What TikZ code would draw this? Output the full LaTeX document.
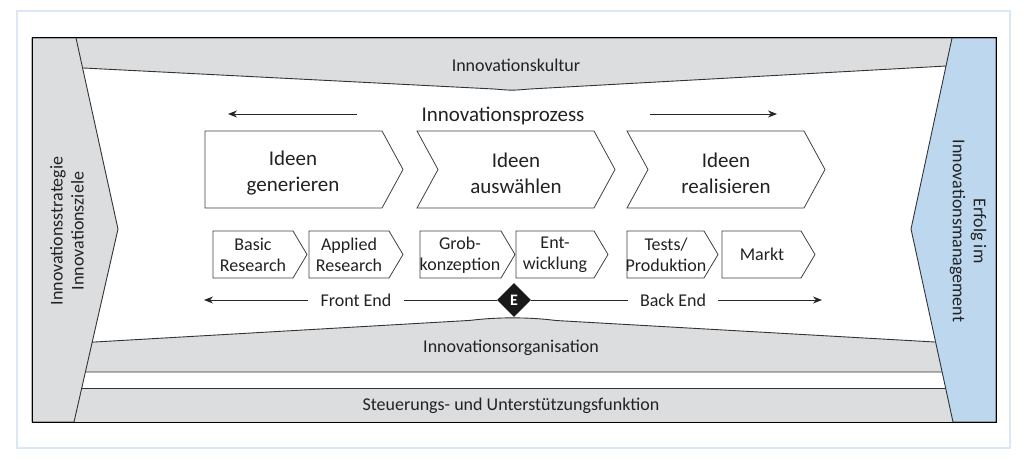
\documentclass[tikz,border=0pt]{standalone}
\usepackage{fontspec}
\setmainfont{Carlito}
\usepackage{tikz}
\usetikzlibrary{arrows.meta,shapes.geometric}
\definecolor{bandgray}{HTML}{DCDDDF}
\definecolor{erfolgblue}{HTML}{BDD7EE}
\definecolor{framecol}{HTML}{DAE8F5}
\definecolor{textgray}{HTML}{222222}
\tikzstyle{band}=[fill=bandgray,draw=black!80,line width=0.9pt]
\tikzstyle{chevbox}=[fill=white,draw=black!75,line width=0.8pt]
\tikzstyle{bigtext}=[text=textgray,align=center,inner sep=0pt,font=\fontsize{21}{26}\selectfont]
\tikzstyle{smalltext}=[text=textgray,align=center,inner sep=0pt,font=\fontsize{18}{21}\selectfont]
\tikzstyle{pfeil}=[-{Stealth[length=9pt,width=7pt]},line width=0.8pt,draw=black!85]
% #1 left, #2 tip, #3 top, #4 bottom, #5 tip depth, #6 notch depth
\newcommand{\chev}[6]{%
  \draw[chevbox] (#1,#3) -- ({#2-#5},#3) -- (#2,{(#3+#4)/2}) -- ({#2-#5},#4)
    -- (#1,#4) -- ({#1+#6},{(#3+#4)/2}) -- cycle;}

\begin{document}
\begin{tikzpicture}[x=1pt,y=-1pt]
	\useasboundingbox (0,0) rectangle (1024,460);
	\draw[framecol,line width=1.5pt] (17,11) rectangle (1010,448);
	% bands
	\draw[band] (60,38) -- (970,38) -- (970,64.7) -- (530,89) .. controls (512,90.5) .. (494,89)
		-- (60,66.8) -- cycle;
	\draw[band] (60,344) -- (470,320.4) .. controls (497,317) and (529,317) .. (556,320.5)
		-- (970,344) -- (970,372) -- (60,372) -- cycle;
	\draw[band] (60,388) rectangle (970,422);
	\draw[band] (32,38) -- (76,38) -- (118,229) -- (74,422) -- (32,422) -- cycle;
	\draw[band,fill=erfolgblue] (996,38) -- (952,38) -- (911,229) -- (953,422) -- (996,422) -- cycle;
	\draw[line width=1pt] (32,38) rectangle (996,422);
	% band labels
	\node[smalltext,anchor=base] (kultur) at (516,71) {Innovationskultur};
	\node[smalltext,anchor=base] (organisation) at (511,352) {Innovationsorganisation};
	\node[smalltext,anchor=base] (steuerung) at (511,410) {Steuerungs- und Unterstützungsfunktion};
	\node[smalltext,rotate=90] (strategie) at (67,231) {Innovationsstrategie\\Innovationsziele};
	\node[smalltext,rotate=-90] (erfolg) at (968,231) {Erfolg im\\Innovationsmanagement};
	% prozess
	\node[bigtext,anchor=base] (prozess) at (503,121) {Innovationsprozess};
	\coordinate (pl1) at (357,114);
	\coordinate (pl2) at (228,114);
	\coordinate (pr1) at (650,114);
	\coordinate (pr2) at (777,114);
	\draw[pfeil] (pl1) -- (pl2);
	\draw[pfeil] (pr1) -- (pr2);
	% phases
	\chev{205}{403}{131}{208}{21}{0}
	\chev{417}{615}{131}{208}{21}{21}
	\chev{627}{825}{131}{208}{21}{21}
	\node[bigtext] (gen) at (293,173) {Ideen\\generieren};
	\node[bigtext] (ausw) at (516,173) {Ideen\\auswählen};
	\node[bigtext] (real) at (726,173) {Ideen\\realisieren};
	% steps
	\chev{213}{307}{231}{278}{14}{0}
	\chev{309}{403}{231}{278}{14}{0}
	\chev{420}{515}{231}{278}{14}{0}
	\chev{516}{608}{231}{278}{14}{0}
	\chev{627}{718}{231}{278}{14}{0}
	\chev{722}{815}{231}{278}{14}{0}
	\node[smalltext] (basic) at (253,255) {Basic\\Research};
	\node[smalltext] (applied) at (349,255) {Applied\\Research};
	\node[smalltext] (grob) at (460,255) {Grob-\\konzeption};
	\node[smalltext] (entw) at (555,255) {Ent-\\wicklung};
	\node[smalltext] (tests) at (666,255) {Tests/\\Produktion};
	\node[smalltext] (markt) at (762,254) {Markt};
	% front end / back end
	\node[diamond,fill=black!90,text=white,minimum size=34pt,inner sep=0pt,
		font=\fontsize{16}{16}\selectfont\bfseries] (e) at (514,300) {E};
	\node[smalltext,inner xsep=12pt] (frontend) at (356,300) {Front End};
	\node[smalltext,inner xsep=12pt] (backend) at (673,300) {Back End};
	\coordinate (feend) at (204,300);
	\coordinate (beend) at (822,300);
	\draw[pfeil] (frontend.west) -- (feend);
	\draw[line width=0.8pt,draw=black!85] (frontend.east) -- (e.west);
	\draw[line width=0.8pt,draw=black!85] (e.east) -- (backend.west);
	\draw[pfeil] (backend.east) -- (beend);
\end{tikzpicture}
\end{document}
